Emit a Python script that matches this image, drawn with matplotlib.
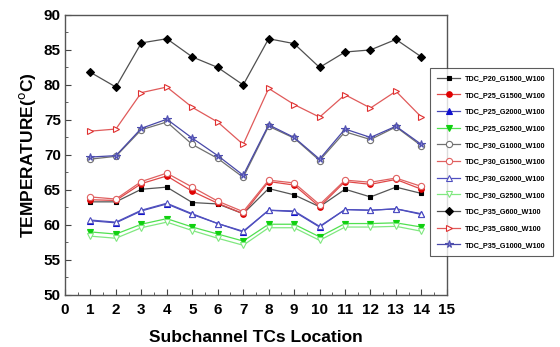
import matplotlib
matplotlib.use("Agg")
import matplotlib.pyplot as plt
from matplotlib.ticker import MultipleLocator

plt.rcParams['font.family'] = ['Liberation Sans', 'DejaVu Sans']

x = list(range(1, 15))

p20_g1500 = [63.3, 63.3, 65.1, 65.4, 63.2, 63.0, 61.6, 65.2, 64.3, 62.6, 65.1, 64.0, 65.4, 64.5]
p25_g1500 = [63.6, 63.5, 65.9, 67.0, 64.8, 63.1, 61.6, 66.2, 65.7, 62.6, 66.2, 65.8, 66.5, 65.1]
p25_g2000 = [60.6, 60.3, 62.0, 63.0, 61.5, 60.2, 59.0, 62.1, 61.9, 59.7, 62.2, 62.1, 62.3, 61.5]
p25_g2500 = [59.0, 58.7, 60.1, 60.9, 59.7, 58.7, 57.7, 60.1, 60.1, 58.3, 60.2, 60.2, 60.3, 59.7]
p30_g1000 = [69.4, 69.8, 73.6, 74.7, 71.5, 69.5, 66.8, 74.1, 72.4, 69.2, 73.3, 72.2, 74.0, 71.3]
p30_g1500 = [64.0, 63.7, 66.2, 67.4, 65.4, 63.4, 61.9, 66.4, 66.0, 62.9, 66.4, 66.1, 66.7, 65.5]
p30_g2000 = [60.7, 60.4, 62.1, 63.1, 61.6, 60.2, 59.1, 62.1, 62.0, 59.8, 62.2, 62.1, 62.3, 61.6]
p30_g2500 = [58.4, 58.1, 59.6, 60.4, 59.2, 58.1, 57.1, 59.6, 59.6, 57.8, 59.7, 59.7, 59.8, 59.1]
p35_g600 = [81.8, 79.7, 86.0, 86.6, 84.0, 82.5, 80.0, 86.6, 85.9, 82.5, 84.7, 85.0, 86.5, 84.0]
p35_g800 = [73.4, 73.7, 78.9, 79.7, 76.8, 74.7, 71.5, 79.5, 77.2, 75.4, 78.6, 76.7, 79.1, 75.4]
p35_g1000 = [69.7, 69.9, 73.8, 75.1, 72.4, 69.9, 67.1, 74.3, 72.5, 69.4, 73.7, 72.5, 74.1, 71.5]

labels = ["TDC_P20_G1500_W100", "TDC_P25_G1500_W100", "TDC_P25_G2000_W100",
          "TDC_P25_G2500_W100", "TDC_P30_G1000_W100", "TDC_P30_G1500_W100",
          "TDC_P30_G2000_W100", "TDC_P30_G2500_W100", "TDC_P35_G600_W100",
          "TDC_P35_G800_W100", "TDC_P35_G1000_W100"]

series = [p20_g1500, p25_g1500, p25_g2000, p25_g2500, p30_g1000, p30_g1500,
          p30_g2000, p30_g2500, p35_g600, p35_g800, p35_g1000]

styles = [
    dict(color='#555555', marker='s', mfc='black', mec='black', ms=3.5),
    dict(color='#e04848', marker='o', mfc='#e00000', mec='#e00000', ms=4),
    dict(color='#4848b8', marker='^', mfc='#1010d0', mec='#1010d0', ms=4.5),
    dict(color='#50e050', marker='v', mfc='#10d010', mec='#10d010', ms=4.5),
    dict(color='#707070', marker='o', mfc='white', mec='#707070', ms=4.5),
    dict(color='#e06060', marker='o', mfc='white', mec='#e06060', ms=4.5),
    dict(color='#5050c0', marker='^', mfc='white', mec='#5050c0', ms=5),
    dict(color='#80e880', marker='v', mfc='white', mec='#80e880', ms=4.5),
    dict(color='#505050', marker='D', mfc='black', mec='black', ms=4.5),
    dict(color='#e05a5a', marker='>', mfc='white', mec='#e03030', ms=4),
    dict(color='#4848a8', marker='*', mfc='#8080d8', mec='#5050b0', ms=5.5),
]

fig = plt.figure(figsize=(5.6, 3.47), dpi=100)
ax = fig.add_axes([0.116, 0.150, 0.682, 0.807])

handles = []
for ys, st, lab in zip(series, styles, labels):
    h, = ax.plot(x, ys, lw=0.9, mew=0.8, label=lab, **st)
    handles.append(h)

ax.set_xlim(0, 15)
ax.set_ylim(50, 90)
ax.xaxis.set_major_locator(MultipleLocator(1))
ax.xaxis.set_minor_locator(MultipleLocator(0.5))
ax.yaxis.set_major_locator(MultipleLocator(5))
ax.yaxis.set_minor_locator(MultipleLocator(2.5))
ax.tick_params(which='both', direction='in', top=False, right=False, color='#444444')
ax.tick_params(which='major', length=4, labelsize=11)
ax.tick_params(axis='x', which='major', pad=6)
ax.tick_params(axis='y', which='major', pad=3)
ax.tick_params(which='minor', length=2)
for lab in ax.get_xticklabels() + ax.get_yticklabels():
    lab.set_fontweight('bold')
for sp in ax.spines.values():
    sp.set_color('#555555')
    sp.set_linewidth(1.0)

ax.set_xlabel('Subchannel TCs Location', fontsize=12.5, fontweight='bold', labelpad=9)
ax.set_ylabel(r'TEMPERATURE($^{\mathrm{o}}$C)', fontsize=12.5, fontweight='bold', labelpad=4)

leg = fig.legend(handles=handles, loc='upper left', bbox_to_anchor=(0.768, 0.804),
                 prop=dict(size=5.2, weight='bold'), frameon=True, fancybox=False,
                 edgecolor='#333333', labelspacing=1.33, handlelength=3.2,
                 handletextpad=0.6, borderpad=1.0, borderaxespad=0)
leg.get_frame().set_linewidth(0.8)

fig.savefig('out.png', dpi=100)
